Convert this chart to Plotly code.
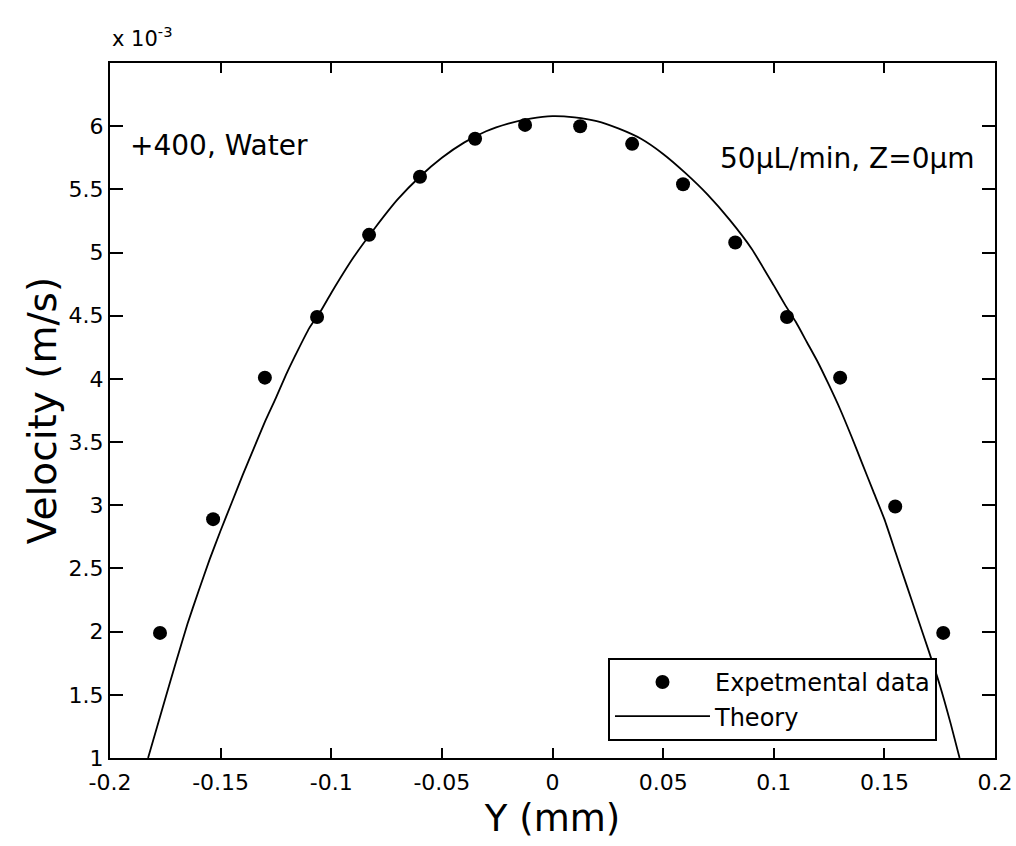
import plotly.graph_objects as go

# experimental data (Y in mm, velocity in 1e-3 m/s)
exp_y = [-0.1774, -0.1534, -0.130, -0.1064, -0.0829, -0.0599, -0.035, -0.0124,
         0.0125, 0.036, 0.059, 0.0826, 0.106, 0.130, 0.1549, 0.1766]
exp_v = [1.99, 2.89, 4.01, 4.49, 5.14, 5.60, 5.90, 6.01,
         6.00, 5.86, 5.54, 5.08, 4.49, 4.01, 2.99, 1.99]

# theory curve
th_y = [-0.1828, -0.175, -0.17, -0.165, -0.16, -0.155, -0.15, -0.145, -0.14,
        -0.135, -0.13, -0.125, -0.12, -0.115, -0.11, -0.105, -0.1, -0.09,
        -0.08, -0.07, -0.06, -0.05, -0.04, -0.03, -0.02, -0.01, 0.0,
        0.01, 0.02, 0.03, 0.04, 0.05, 0.06, 0.07, 0.08, 0.09, 0.1, 0.105,
        0.11, 0.115, 0.12, 0.125, 0.13, 0.135, 0.14, 0.145, 0.15, 0.155,
        0.16, 0.165, 0.17, 0.175, 0.18, 0.184]
th_v = [1.0, 1.47, 1.77, 2.06, 2.32, 2.57, 2.80, 3.02, 3.24,
        3.45, 3.66, 3.85, 4.05, 4.23, 4.40, 4.53, 4.68, 4.96,
        5.20, 5.42, 5.60, 5.75, 5.87, 5.96, 6.02, 6.06, 6.08,
        6.07, 6.04, 5.98, 5.90, 5.78, 5.63, 5.46, 5.26, 5.03, 4.74, 4.59,
        4.45, 4.29, 4.13, 3.95, 3.76, 3.55, 3.33, 3.11, 2.89, 2.63,
        2.37, 2.11, 1.85, 1.58, 1.27, 1.0]

x_ticks = [-0.2, -0.15, -0.1, -0.05, 0, 0.05, 0.1, 0.15, 0.2]
x_labels = ['-0.2', '-0.15', '-0.1', '-0.05', '0', '0.05', '0.1', '0.15', '0.2']
y_ticks = [1, 1.5, 2, 2.5, 3, 3.5, 4, 4.5, 5, 5.5, 6]
y_labels = ['1', '1.5', '2', '2.5', '3', '3.5', '4', '4.5', '5', '5.5', '6']

FONT = 'DejaVu Sans'

data = [
    go.Scatter(x=exp_y, y=exp_v, mode='markers', name='Expetmental data',
               marker=dict(symbol='circle', size=14, color='black')),
    go.Scatter(x=th_y, y=th_v, mode='lines', name='Theory',
               line=dict(color='black', width=1.8, shape='spline', smoothing=0.5)),
]

axis_common = dict(showline=True, linecolor='black', linewidth=2, mirror='ticks',
                   ticks='inside', tickcolor='black', tickwidth=2,
                   showgrid=False, zeroline=False, automargin=False,
                   tickfont=dict(family=FONT, size=22, color='black'))

layout = go.Layout(
    width=1016, height=846,
    margin=dict(l=110, r=21, t=63, b=88),
    paper_bgcolor='white', plot_bgcolor='white',
    font=dict(family=FONT, color='black'),
    xaxis=dict(range=[-0.2, 0.2], tickvals=x_ticks, ticktext=x_labels, ticklen=10,
               ticklabelstandoff=4,
               title=dict(text='Y (mm)', font=dict(family=FONT, size=37), standoff=11),
               **axis_common),
    yaxis=dict(range=[1, 6.5], tickvals=y_ticks, ticktext=y_labels, ticklen=13,
               title=dict(text='Velocity (m/s)', font=dict(family=FONT, size=39), standoff=0),
               **axis_common),
    showlegend=True,
    legend=dict(x=0.5627, y=0.144, xanchor='left', yanchor='top',
                bgcolor='white', bordercolor='black', borderwidth=2,
                font=dict(family=FONT, size=24, color='black'),
                itemwidth=95, tracegroupgap=4),
    annotations=[
        dict(text='x 10<sup>-3</sup>', xref='paper', yref='paper', x=0.0, y=1.0,
             xanchor='left', yanchor='bottom', showarrow=False, yshift=10,
             font=dict(family=FONT, size=21)),
        dict(text='+400, Water', xref='paper', yref='paper', x=0.02, y=0.882,
             xanchor='left', yanchor='middle', showarrow=False,
             font=dict(family=FONT, size=28)),
        dict(text='50μL/min, Z=0μm', xref='paper', yref='paper', x=0.98, y=0.862,
             xanchor='right', yanchor='middle', showarrow=False,
             font=dict(family=FONT, size=28)),
    ],
)

fig = go.Figure(data=data, layout=layout)
# drop the page's default body margin so the figure fills the window exactly
fig.write_html('out.html', config={'displayModeBar': False},
               post_script="document.body.style.margin='0';")
